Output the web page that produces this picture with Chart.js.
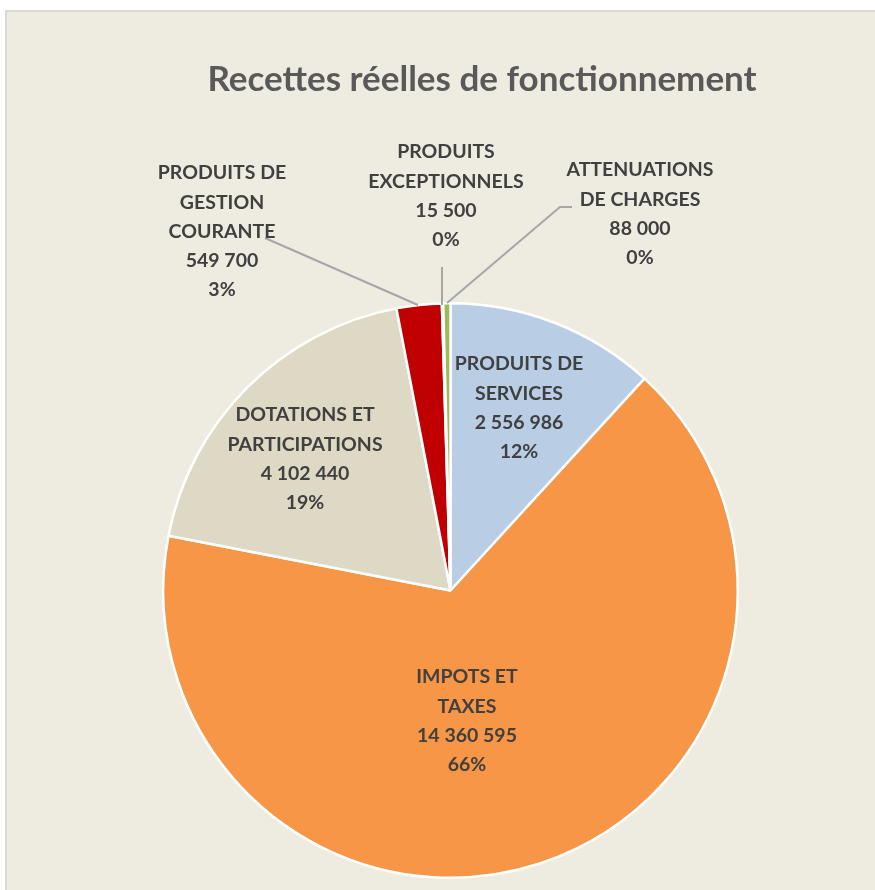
<!DOCTYPE html>
<html>
<head>
<meta charset="utf-8">
<script src="https://cdn.jsdelivr.net/npm/chart.js@4"></script>
<style>
  html, body { margin: 0; padding: 0; background: #fff; }
  #frame {
    position: absolute; left: 5px; top: 10px; width: 870px; height: 880px;
    background: #EEECE1; border-left: 2px solid #D9D9D9; border-top: 2px solid #D9D9D9;
  }
  #wrap { position: absolute; left: 0; top: 0; width: 875px; height: 890px; }
</style>
</head>
<body>
<div id="frame"></div>
<div id="wrap"><canvas id="myPieChart"></canvas></div>
<script>
const categories = [
  ["PRODUITS DE", "SERVICES"],
  ["IMPOTS ET", "TAXES"],
  ["DOTATIONS ET", "PARTICIPATIONS"],
  ["PRODUITS DE", "GESTION", "COURANTE"],
  ["PRODUITS", "EXCEPTIONNELS"],
  ["ATTENUATIONS", "DE CHARGES"],
];
const amounts = [2556986, 14360595, 4102440, 549700, 15500, 88000];
const colors = ["#B9CDE5", "#F79646", "#DDD9C4", "#C00000", "#7F7F7F", "#9BBB59"];

// where each label block sits (center x, first line y) and leader lines for outside ones
const labelLayout = [
  { x: 519, y: 364 },
  { x: 467, y: 677 },
  { x: 305, y: 415 },
  { x: 222, y: 173, leader: [[265, 238], [418, 305]] },
  { x: 446, y: 152, leader: [[442, 267], [442, 305]] },
  { x: 640, y: 170, leader: [[572, 207], [560, 207], [447, 303]] },
];

const fmt = (n) => String(n).replace(/\B(?=(\d{3})+(?!\d))/g, " ");
const total = amounts.reduce((a, b) => a + b, 0);

const labelPlugin = {
  id: "labels",
  afterDraw(chart) {
    const c = chart.ctx;
    c.save();
    // title
    c.fillStyle = "#595959";
    c.font = "bold 35px Lato";
    c.textAlign = "center";
    c.textBaseline = "middle";
    c.fillText("Recettes réelles de fonctionnement", 482, 80);

    // leader lines
    c.strokeStyle = "#A6A6A6";
    c.lineWidth = 2;
    labelLayout.forEach((l) => {
      if (!l.leader) return;
      c.beginPath();
      l.leader.forEach((p, i) => (i ? c.lineTo(p[0], p[1]) : c.moveTo(p[0], p[1])));
      c.stroke();
    });

    // label texts
    c.fillStyle = "#404040";
    c.font = "bold 19.5px Lato";
    categories.forEach((lines, i) => {
      const pct = Math.round((amounts[i] / total) * 100) + "%";
      const all = lines.concat([fmt(amounts[i]), pct]);
      const l = labelLayout[i];
      all.forEach((t, k) => c.fillText(t, l.x, l.y + k * 29.3));
    });
    c.restore();
  },
};

const ctx = document.getElementById("myPieChart").getContext("2d");
const myPieChart = new Chart(ctx, {
  type: "pie",
  data: {
    labels: categories.map((l) => l.join(" ")),
    datasets: [
      {
        data: amounts,
        backgroundColor: colors,
        borderColor: "#FFFFFF",
        borderWidth: 2.5,
      },
    ],
  },
  options: {
    responsive: true,
    maintainAspectRatio: false,
    animation: false,
    layout: { padding: { left: 162, right: 136, top: 302, bottom: 11 } },
    plugins: {
      legend: { display: false },
      tooltip: { enabled: false },
    },
  },
  plugins: [labelPlugin],
});
</script>
</body>
</html>
